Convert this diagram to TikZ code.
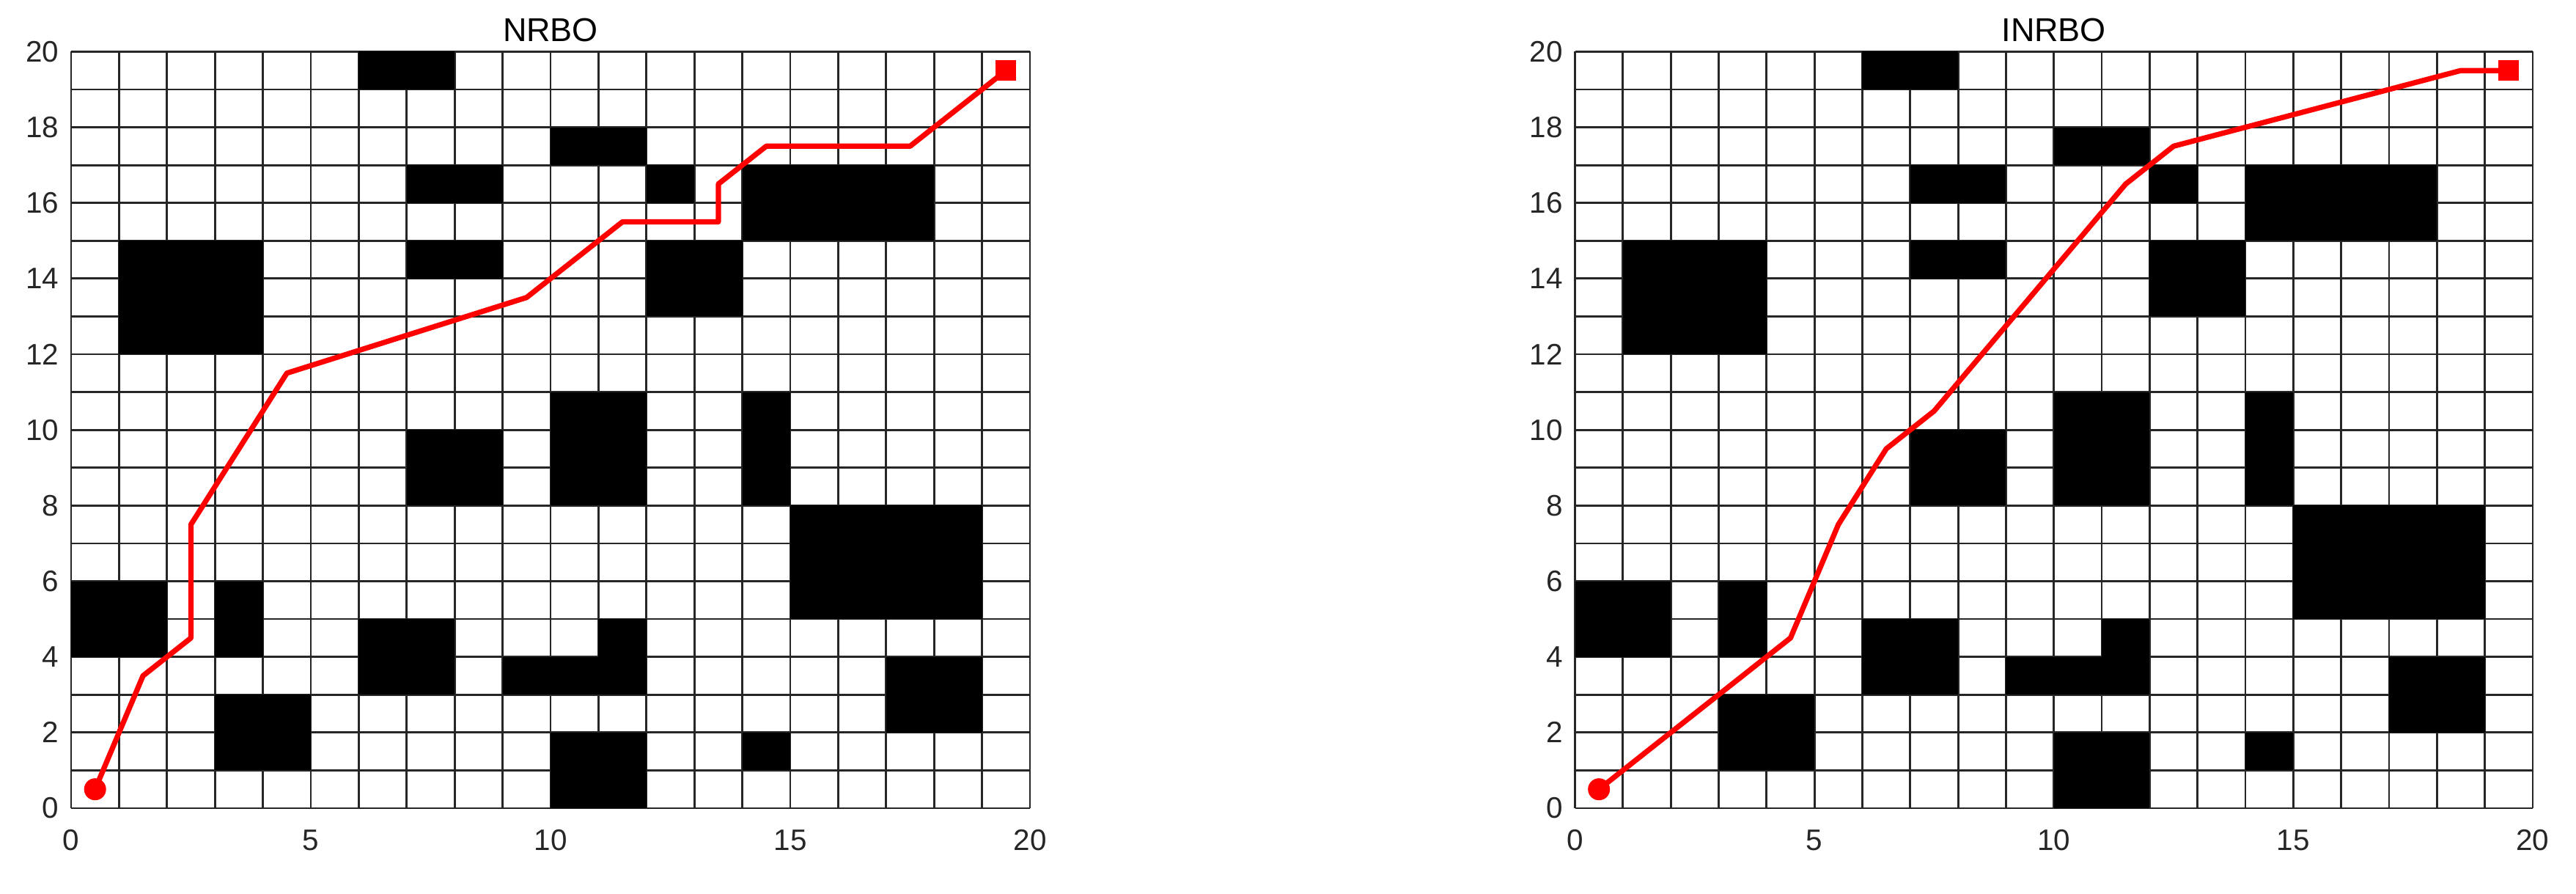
\documentclass[tikz,border=0pt]{standalone}
\usepackage{fontspec}
\setmainfont{Liberation Sans}
\tikzset{
  cellgrid/.style={draw=black!85, line width=0.28mm},
  obst/.style={fill=black},
  ticklab/.style={font=\fontsize{11.5}{13}\selectfont, inner sep=0pt, text=black!85},
  ttl/.style={font=\fontsize{12.8}{14}\selectfont, inner sep=0pt, anchor=base},
  route/.style={draw=red, line width=0.72mm, line join=round},
  startmark/.style={circle, fill=red, minimum size=3mm, inner sep=0pt},
  goalmark/.style={rectangle, fill=red, minimum size=2.8mm, inner sep=0pt},
}
\newcommand{\gridpanel}[2]{%
  \foreach \i in {0,...,20} {
    \draw[cellgrid] (\i,0) -- (\i,20);
    \draw[cellgrid] (0,\i) -- (20,\i);
  }
  \foreach \a/\b/\c/\d in {6/19/8/20, 10/17/12/18, 7/16/9/17, 12/16/13/17, 14/15/18/17,
      7/14/9/15, 1/12/4/15, 12/13/14/15, 10/8/12/11, 7/8/9/10, 14/8/15/11, 15/5/19/8,
      0/4/2/6, 3/4/4/6, 6/3/8/5, 11/4/12/5, 9/3/12/4, 17/2/19/4, 3/1/5/3, 10/0/12/2, 14/1/15/2}
    \fill[obst] (\a,\b) rectangle (\c,\d);
  \foreach \v in {0,2,...,20}
    \node[ticklab, anchor=east] (#1y\v) at ([xshift=-1.6mm]0,\v) {\v};
  \foreach \v in {0,5,...,20}
    \node[ticklab, anchor=north] (#1x\v) at ([yshift=-2.9mm]\v,0) {\v};
  \node[ttl] (#1title) at ([yshift=1.35mm]10,20) {#2};
}
\begin{document}
\begin{tikzpicture}
  \useasboundingbox[fill=white] (0,0) rectangle (351.4mm,121.9mm);
  % left panel: NRBO
  \begin{scope}[shift={(9.7mm,11.7mm)}, x=6.54mm, y=5.158mm]
    \gridpanel{L}{NRBO}
    \coordinate (Ls) at (0.5,0.5);
    \coordinate (Lg) at (19.5,19.5);
    \draw[route] (Ls) -- (1.5,3.5) -- (2.5,4.5) -- (2.5,7.5) -- (4.5,11.5) -- (9.5,13.5)
      -- (11.5,15.5) -- (13.5,15.5) -- (13.5,16.5) -- (14.5,17.5) -- (17.5,17.5) -- (Lg);
    \node[startmark] (Lstart) at (Ls) {};
    \node[goalmark] (Lgoal) at (Lg) {};
  \end{scope}
  % right panel: INRBO
  \begin{scope}[shift={(214.85mm,11.7mm)}, x=6.532mm, y=5.158mm]
    \gridpanel{R}{INRBO}
    \coordinate (Rs) at (0.5,0.5);
    \coordinate (Rg) at (19.5,19.5);
    \draw[route] (Rs) -- (4.5,4.5) -- (5.5,7.5) -- (6.5,9.5) -- (7.5,10.5) -- (11.5,16.5)
      -- (12.5,17.5) -- (18.5,19.5) -- (Rg);
    \node[startmark] (Rstart) at (Rs) {};
    \node[goalmark] (Rgoal) at (Rg) {};
  \end{scope}
\end{tikzpicture}
\end{document}
